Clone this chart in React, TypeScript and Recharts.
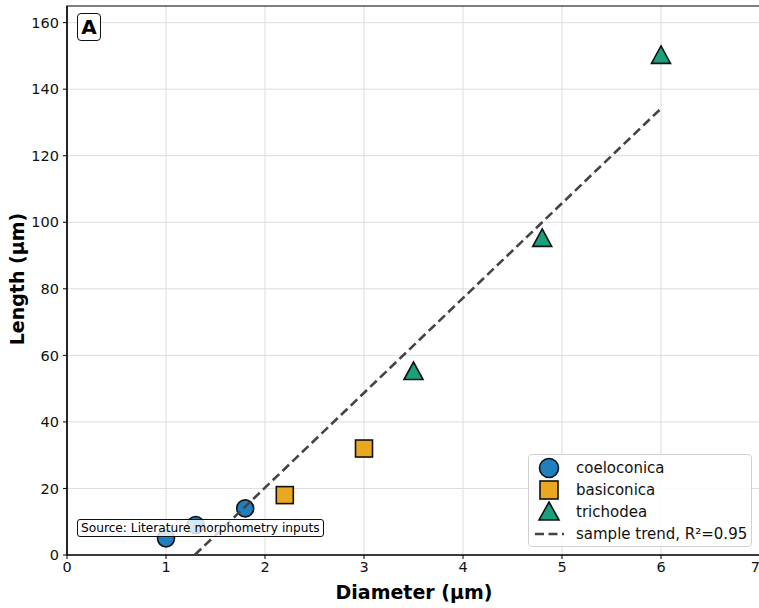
import { ScatterChart, Scatter, XAxis, YAxis, CartesianGrid, ReferenceArea } from 'recharts';

const coeloconica = [
  { x: 1.0, y: 5 },
  { x: 1.3, y: 9 },
  { x: 1.8, y: 14 },
];

const basiconica = [
  { x: 2.2, y: 18 },
  { x: 3.0, y: 32 },
];

const trichodea = [
  { x: 3.5, y: 55 },
  { x: 4.8, y: 95 },
  { x: 6.0, y: 150 },
];

// fitted trend, drawn from where it enters the plot (y=0) to the last point
const trend = [
  { x: 1.29, y: 0 },
  { x: 6.0, y: 134.2 },
];

const xTicks = [0, 1, 2, 3, 4, 5, 6, 7];
const yTicks = [0, 20, 40, 60, 80, 100, 120, 140, 160];

const BLUE = '#1f80c0';
const ORANGE = '#e9a81f';
const GREEN = '#19a17e';
const TREND = '#444444';

const Circle = (props: any) => (
  <circle cx={props.cx} cy={props.cy} r={8.5} fill={BLUE} stroke="#111" strokeWidth={1.6} />
);

const Square = (props: any) => (
  <rect x={props.cx - 8.5} y={props.cy - 8.5} width={17} height={17} fill={ORANGE} stroke="#111" strokeWidth={1.6} />
);

const Triangle = (props: any) => {
  const { cx, cy } = props;
  const pts = `${cx},${cy - 10} ${cx + 9.5},${cy + 7.5} ${cx - 9.5},${cy + 7.5}`;
  return <polygon points={pts} fill={GREEN} stroke="#111" strokeWidth={1.6} />;
};

const Nothing = () => null;

function LegendBox() {
  const rows = [
    { label: 'coeloconica', icon: <circle cx={15} cy={11} r={9.5} fill={BLUE} stroke="#111" strokeWidth={1.6} /> },
    { label: 'basiconica', icon: <rect x={6} y={2} width={18} height={18} fill={ORANGE} stroke="#111" strokeWidth={1.6} /> },
    { label: 'trichodea', icon: <polygon points="15,1 25,19 5,19" fill={GREEN} stroke="#111" strokeWidth={1.6} /> },
    { label: 'sample trend, R²=0.95', icon: <line x1={1} y1={11} x2={30} y2={11} stroke={TREND} strokeWidth={2.6} strokeDasharray="9 4.5" /> },
  ];
  return (
    <div
      style={{
        position: 'absolute',
        left: 528,
        top: 454,
        width: 224,
        height: 93,
        border: '1px solid #d0d0d0',
        borderRadius: 4,
        background: 'rgba(255,255,255,0.85)',
        boxSizing: 'border-box',
        paddingTop: 2,
      }}
    >
      {rows.map((r) => (
        <div key={r.label} style={{ display: 'flex', alignItems: 'center', height: 22 }}>
          <svg width={40} height={22} style={{ marginLeft: 5 }}>
            {r.icon}
          </svg>
          <span style={{ fontSize: 15, marginLeft: 2, color: '#111' }}>{r.label}</span>
        </div>
      ))}
    </div>
  );
}

export default function App() {
  return (
    <div style={{ position: 'relative', width: 759, height: 608, fontFamily: '"DejaVu Sans", sans-serif', background: '#fff', overflow: 'hidden' }}>
      <style>{'body{margin:0}'}</style>
      <ScatterChart width={759} height={608} margin={{ top: 6, right: -1, bottom: 0, left: 0 }}>
        <CartesianGrid stroke="#dddddd" strokeWidth={1} horizontalValues={yTicks} verticalValues={xTicks} />
        <XAxis
          type="number"
          dataKey="x"
          domain={[0, 7]}
          ticks={xTicks}
          allowDataOverflow
          height={53}
          tickSize={4}
          tickMargin={3}
          tick={{ fill: '#111', fontSize: 14.5 }}
          axisLine={{ stroke: '#000', strokeWidth: 1.2 }}
          tickLine={{ stroke: '#000' }}
        />
        <YAxis
          type="number"
          dataKey="y"
          domain={[0, 165]}
          ticks={yTicks}
          allowDataOverflow
          width={67}
          tickSize={4}
          tickMargin={4}
          tick={{ fill: '#111', fontSize: 14.5 }}
          axisLine={{ stroke: '#000', strokeWidth: 1.2 }}
          tickLine={{ stroke: '#000' }}
        />
        <ReferenceArea x1={0} x2={7} y1={0} y2={165} fill="none" fillOpacity={0} stroke="#000" strokeWidth={1.2} />
        <Scatter name="coeloconica" data={coeloconica} shape={Circle} isAnimationActive={false} />
        <Scatter name="basiconica" data={basiconica} shape={Square} isAnimationActive={false} />
        <Scatter name="trichodea" data={trichodea} shape={Triangle} isAnimationActive={false} />
        <Scatter
          name="sample trend, R²=0.95"
          data={trend}
          shape={Nothing}
          line={{ stroke: TREND, strokeWidth: 2.6, strokeDasharray: '9 4.5' }}
          isAnimationActive={false}
        />
      </ScatterChart>

      <div
        style={{
          position: 'absolute',
          left: 77,
          top: 13,
          width: 24,
          height: 28,
          border: '1.3px solid #111',
          borderRadius: 4,
          background: '#fff',
          boxSizing: 'border-box',
          display: 'flex',
          alignItems: 'center',
          justifyContent: 'center',
          fontWeight: 'bold',
          fontSize: 20,
          color: '#000',
        }}
      >
        A
      </div>

      <div
        style={{
          position: 'absolute',
          left: 77,
          top: 519,
          height: 18,
          padding: '0 3px',
          border: '1px solid #111',
          borderRadius: 3,
          background: 'rgba(255,255,255,0.82)',
          boxSizing: 'border-box',
          fontSize: 12.2,
          lineHeight: '16px',
          whiteSpace: 'nowrap',
          color: '#000',
        }}
      >
        Source: Literature morphometry inputs
      </div>

      <LegendBox />

      <div
        style={{
          position: 'absolute',
          left: 414,
          top: 592,
          transform: 'translate(-50%, -50%)',
          fontWeight: 'bold',
          fontSize: 19,
          whiteSpace: 'nowrap',
          color: '#000',
        }}
      >
        Diameter (µm)
      </div>
      <div
        style={{
          position: 'absolute',
          left: 17,
          top: 279,
          transform: 'translate(-50%, -50%) rotate(-90deg)',
          fontWeight: 'bold',
          fontSize: 19,
          whiteSpace: 'nowrap',
          color: '#000',
        }}
      >
        Length (µm)
      </div>
    </div>
  );
}
